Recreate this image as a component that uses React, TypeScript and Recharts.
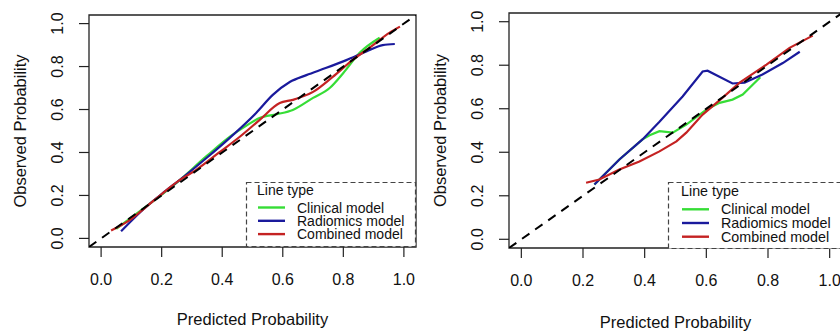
import React from 'react';
import { LineChart, Line, XAxis, YAxis, ReferenceArea, Label, Legend } from 'recharts';

// axis setup
const ticks = [0, 0.2, 0.4, 0.6, 0.8, 1.0];
const domain = [-0.04, 1.04];
const diagonal = [-0.04, 1.04];

const seriesNames = ['Clinical model', 'Radiomics model', 'Combined model'];
const seriesColors = ['#36dd36', '#1a1a9c', '#c42222'];

// left panel (smooth curves)
const leftClinical = [
  [0.05, 0.045], [0.15, 0.15], [0.25, 0.26], [0.35, 0.385], [0.43, 0.478], [0.48, 0.525],
  [0.523, 0.56], [0.58, 0.578], [0.633, 0.598], [0.7, 0.654], [0.755, 0.7], [0.8, 0.77],
  [0.854, 0.864], [0.92, 0.934],
];
const leftRadiomics = [
  [0.066, 0.033], [0.148, 0.146], [0.203, 0.21], [0.258, 0.27], [0.347, 0.373], [0.424, 0.467],
  [0.512, 0.584], [0.567, 0.668], [0.623, 0.728], [0.678, 0.76], [0.744, 0.794], [0.81, 0.83],
  [0.876, 0.87], [0.93, 0.9], [0.97, 0.905],
];
const leftCombined = [
  [0.033, 0.037], [0.093, 0.084], [0.148, 0.146], [0.203, 0.21], [0.258, 0.27], [0.313, 0.318],
  [0.39, 0.4], [0.457, 0.472], [0.523, 0.551], [0.59, 0.63], [0.633, 0.645], [0.7, 0.682],
  [0.765, 0.752], [0.83, 0.83], [0.887, 0.888], [0.953, 0.958], [0.987, 0.986],
];

// right panel (piecewise)
const rightClinical = [
  [0.237, 0.252], [0.318, 0.367], [0.393, 0.459], [0.416, 0.478], [0.448, 0.497], [0.491, 0.49],
  [0.535, 0.527], [0.6, 0.596], [0.643, 0.627], [0.685, 0.642], [0.718, 0.665], [0.775, 0.745],
];
const rightRadiomics = [
  [0.237, 0.252], [0.318, 0.367], [0.393, 0.459], [0.448, 0.54], [0.523, 0.656], [0.588, 0.771],
  [0.604, 0.775], [0.685, 0.716], [0.724, 0.72], [0.782, 0.757], [0.848, 0.81], [0.903, 0.862],
];
const rightCombined = [
  [0.21, 0.26], [0.253, 0.275], [0.318, 0.321], [0.383, 0.358], [0.448, 0.404], [0.503, 0.45],
  [0.535, 0.49], [0.588, 0.573], [0.653, 0.651], [0.708, 0.72], [0.795, 0.803], [0.87, 0.88],
  [0.945, 0.936],
];

const FONT = '"Liberation Sans", Arial, Helvetica, sans-serif';

const toPoints = (arr: number[][]) => arr.map(([x, y]) => ({ x, y }));

const XTick = (props: any) => {
  const { x, y, payload } = props;
  return (
    <text x={x} y={y + 28} textAnchor="middle" fontSize={16} fontFamily={FONT} fill="#111">
      {payload.value.toFixed(1)}
    </text>
  );
};

const YTick = (props: any) => {
  const { x, y, payload } = props;
  return (
    <text
      transform={`translate(${x - 16},${y}) rotate(-90)`}
      textAnchor="middle"
      fontSize={16}
      fontFamily={FONT}
      fill="#111"
    >
      {payload.value.toFixed(1)}
    </text>
  );
};

interface LegendLayout {
  titleY: number;
  rowY: number;
  rowGap: number;
  padX: number;
  width: number;
  height: number;
  fontSize: number;
}

const LegendBox = ({ l }: { l: LegendLayout }) => (
  <svg width={l.width} height={l.height} style={{ display: 'block', overflow: 'visible' }}>
    <rect
      x={0.5}
      y={0.5}
      width={l.width - 1}
      height={l.height - 1}
      fill="white"
      stroke="#444"
      strokeWidth={1.2}
      strokeDasharray="5 3"
    />
    <text x={l.padX} y={l.titleY} fontSize={l.fontSize} fontFamily={FONT} fill="#111">
      Line type
    </text>
    {seriesNames.map((name, i) => (
      <g key={name}>
        <line
          x1={l.padX + 1}
          x2={l.padX + 28}
          y1={l.rowY + i * l.rowGap - 5}
          y2={l.rowY + i * l.rowGap - 5}
          stroke={seriesColors[i]}
          strokeWidth={2.4}
        />
        <text x={l.padX + 40} y={l.rowY + i * l.rowGap} fontSize={l.fontSize} fontFamily={FONT} fill="#111">
          {name}
        </text>
      </g>
    ))}
  </svg>
);

interface PanelProps {
  width: number;
  top: number;
  bottom: number;
  right: number;
  series: number[][][];
  curve: 'monotone' | 'linear';
  legendPos: { left: number; top: number };
  legend: LegendLayout;
  titleOffset: number;
}

const Panel = ({ width, top, bottom, right, series, curve, legendPos, legend, titleOffset }: PanelProps) => (
  <LineChart width={width} height={331} margin={{ top, right, bottom: 0, left: 0 }}>
    <XAxis
      type="number"
      dataKey="x"
      domain={domain}
      ticks={ticks}
      allowDataOverflow
      axisLine={false}
      tickSize={10}
      tickMargin={0}
      tickLine={{ stroke: '#222', strokeWidth: 1.2 }}
      tick={<XTick />}
      height={331 - bottom}
    >
      <Label
        value="Predicted Probability"
        position="insideBottom"
        offset={titleOffset}
        style={{ fontSize: 16.5, fontFamily: FONT, fill: '#111' }}
      />
    </XAxis>
    <YAxis
      type="number"
      dataKey="y"
      domain={domain}
      ticks={ticks}
      allowDataOverflow
      axisLine={false}
      tickSize={10}
      tickMargin={0}
      tickLine={{ stroke: '#222', strokeWidth: 1.2 }}
      tick={<YTick />}
      width={89}
    >
      <Label
        value="Observed Probability"
        angle={-90}
        position="insideLeft"
        offset={20}
        style={{ fontSize: 16.5, fontFamily: FONT, fill: '#111', textAnchor: 'middle' }}
      />
    </YAxis>
    <ReferenceArea
      x1={domain[0]}
      x2={domain[1]}
      y1={domain[0]}
      y2={domain[1]}
      fill="none"
      stroke="#222"
      strokeWidth={1.3}
      ifOverflow="visible"
    />
    {series.map((s, i) => (
      <Line
        key={seriesNames[i]}
        data={toPoints(s)}
        dataKey="y"
        type={curve}
        stroke={seriesColors[i]}
        strokeWidth={2.2}
        dot={false}
        isAnimationActive={false}
      />
    ))}
    <Line
      data={diagonal.map((v) => ({ x: v, y: v }))}
      dataKey="y"
      type="linear"
      stroke="#000"
      strokeWidth={2}
      strokeDasharray="9 7"
      dot={false}
      legendType="none"
      isAnimationActive={false}
    />
    <Legend
      layout="horizontal"
      verticalAlign="middle"
      align="center"
      wrapperStyle={{ left: legendPos.left, top: legendPos.top, width: legend.width, height: legend.height }}
      content={() => <LegendBox l={legend} />}
    />
  </LineChart>
);

export default function App() {
  return (
    <div
      style={{
        position: 'absolute',
        left: 0,
        top: 0,
        width: 840,
        height: 331,
        overflow: 'hidden',
        background: '#fff',
      }}
    >
      <div style={{ position: 'absolute', left: 0, top: 0 }}>
        <Panel
          width={420}
          top={15}
          bottom={247}
          right={4}
          series={[leftClinical, leftRadiomics, leftCombined]}
          curve="monotone"
          legendPos={{ left: 246, top: 182 }}
          legend={{ titleY: 12.5, rowY: 30.5, rowGap: 13.3, padX: 11, width: 170, height: 65, fontSize: 14 }}
          titleOffset={6}
        />
      </div>
      <div style={{ position: 'absolute', left: 420, top: 0 }}>
        <Panel
          width={440}
          top={13}
          bottom={248}
          right={18}
          series={[rightClinical, rightRadiomics, rightCombined]}
          curve="linear"
          legendPos={{ left: 248, top: 182 }}
          legend={{ titleY: 13.5, rowY: 32.3, rowGap: 13.7, padX: 13, width: 180, height: 67, fontSize: 14.3 }}
          titleOffset={3}
        />
      </div>
    </div>
  );
}
